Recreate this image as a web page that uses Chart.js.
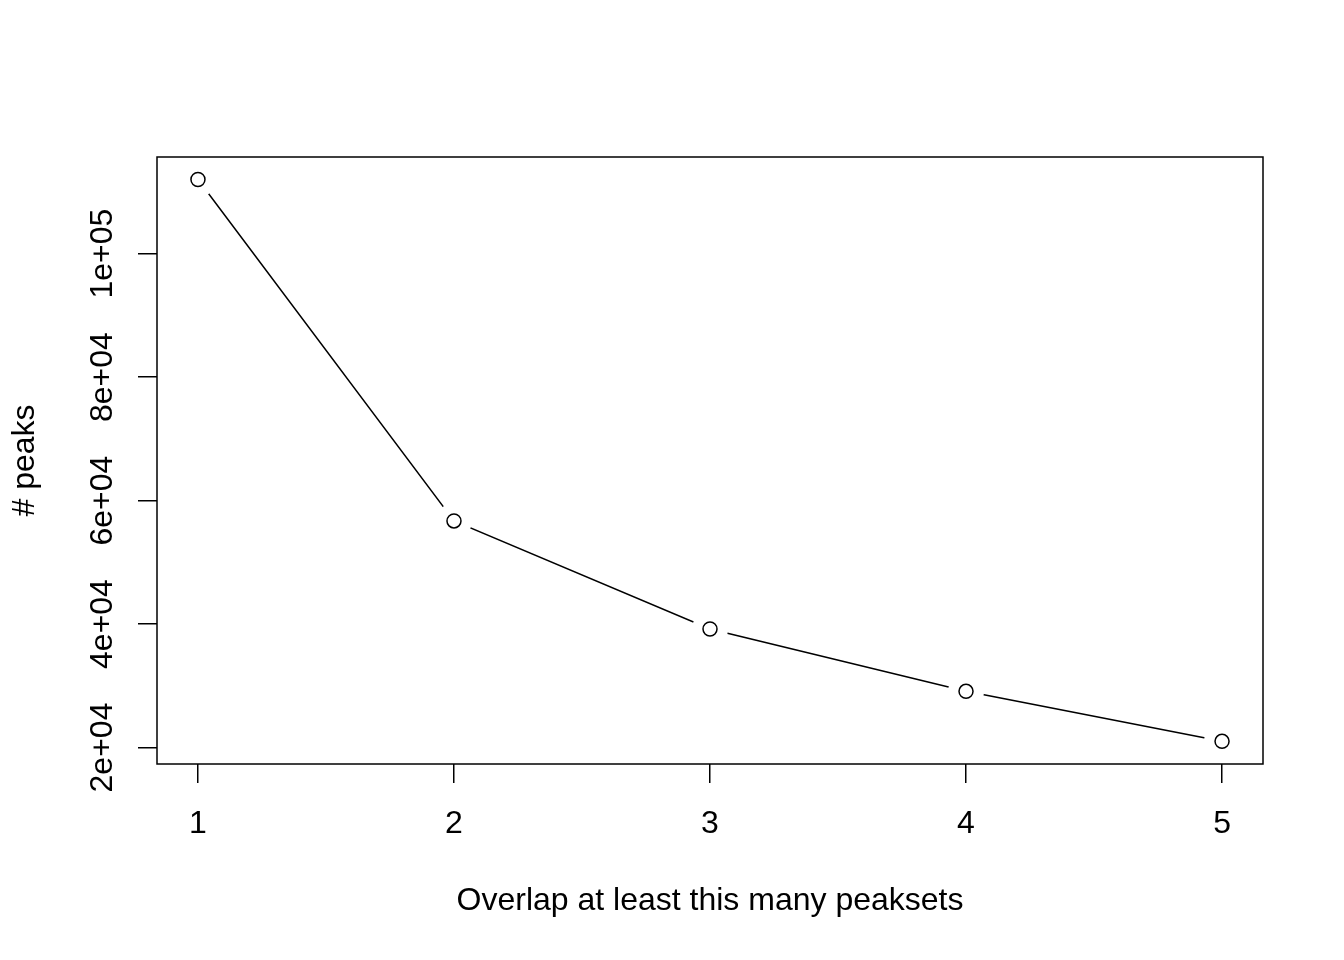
<!DOCTYPE html>
<html>
<head>
<meta charset="utf-8">
<script src="https://cdn.jsdelivr.net/npm/chart.js@4.4.1/dist/chart.umd.min.js"></script>
<style>
  html, body { margin: 0; padding: 0; background: #ffffff; }
  canvas { display: block; }
</style>
</head>
<body>
<canvas id="peaksChart" width="1344" height="960"></canvas>
<script>
// Chart data
const overlapCounts = [1, 2, 3, 4, 5];
const peakCounts = [112000, 56700, 39200, 29100, 21000];
const xTicks = [1, 2, 3, 4, 5];
const yTicks = [20000, 40000, 60000, 80000, 100000];
const yTickLabels = ['2e+04', '4e+04', '6e+04', '8e+04', '1e+05'];

const points = overlapCounts.map(function(x, i) {
    return { x: x, y: peakCounts[i] };
});

const fontFamily = "'Liberation Sans', Arial, sans-serif";

// Plot box plus rotated y tick labels (R style)
const rBoxPlugin = {
    id: 'rBox',
    afterDraw: function(chart) {
        const ctx = chart.ctx;
        const area = chart.chartArea;
        const yScale = chart.scales.y;
        ctx.save();
        ctx.strokeStyle = '#000000';
        ctx.lineWidth = 1.5;
        ctx.strokeRect(area.left, area.top, area.right - area.left, area.bottom - area.top);

        ctx.fillStyle = '#000000';
        ctx.font = '32px ' + fontFamily;
        ctx.textAlign = 'center';
        ctx.textBaseline = 'alphabetic';
        yTicks.forEach(function(v, i) {
            const py = yScale.getPixelForValue(v);
            ctx.save();
            ctx.translate(112, py);
            ctx.rotate(-Math.PI / 2);
            ctx.fillText(yTickLabels[i], 0, 0);
            ctx.restore();
        });
        ctx.restore();
    }
};

new Chart(document.getElementById('peaksChart').getContext('2d'), {
    type: 'scatter',
    data: {
        datasets: [{
            // connecting line
            data: points,
            showLine: true,
            borderColor: '#000000',
            borderWidth: 1.5,
            pointRadius: 0,
            order: 3
        }, {
            // white gap around each point, like type = "b"
            data: points,
            showLine: false,
            pointRadius: 18,
            pointBackgroundColor: '#ffffff',
            pointBorderWidth: 0,
            pointBorderColor: '#ffffff',
            order: 2
        }, {
            // open circles
            data: points,
            showLine: false,
            pointRadius: 7,
            pointBackgroundColor: '#ffffff',
            pointBorderColor: '#000000',
            pointBorderWidth: 1.5,
            order: 1
        }]
    },
    options: {
        responsive: false,
        animation: false,
        layout: {
            padding: { left: 6, top: 157, right: 81, bottom: 40 }
        },
        plugins: {
            legend: { display: false },
            tooltip: { enabled: false }
        },
        scales: {
            x: {
                type: 'linear',
                min: 0.84,
                max: 5.16,
                afterBuildTicks: function(scale) {
                    scale.ticks = xTicks.map(function(v) { return { value: v }; });
                },
                afterFit: function(scale) {
                    scale.height = 156;
                },
                border: { display: false },
                grid: {
                    display: true,
                    drawOnChartArea: false,
                    drawTicks: true,
                    tickLength: 19,
                    color: '#000000',
                    lineWidth: 1.5
                },
                ticks: {
                    color: '#000000',
                    padding: 22,
                    maxRotation: 0,
                    font: { family: fontFamily, size: 32 }
                },
                title: {
                    display: true,
                    text: 'Overlap at least this many peaksets',
                    color: '#000000',
                    padding: 0,
                    font: { family: fontFamily, size: 32, lineHeight: 1.2 }
                }
            },
            y: {
                type: 'linear',
                min: 17330,
                max: 115640,
                afterBuildTicks: function(scale) {
                    scale.ticks = yTicks.map(function(v) { return { value: v }; });
                },
                afterFit: function(scale) {
                    scale.width = 151;
                },
                border: { display: false },
                grid: {
                    display: true,
                    drawOnChartArea: false,
                    drawTicks: true,
                    tickLength: 19,
                    color: '#000000',
                    lineWidth: 1.5
                },
                ticks: {
                    display: false
                },
                title: {
                    display: true,
                    text: '# peaks',
                    color: '#000000',
                    padding: 0,
                    font: { family: fontFamily, size: 32, lineHeight: 1.2 }
                }
            }
        }
    },
    plugins: [rBoxPlugin]
});
</script>
</body>
</html>
